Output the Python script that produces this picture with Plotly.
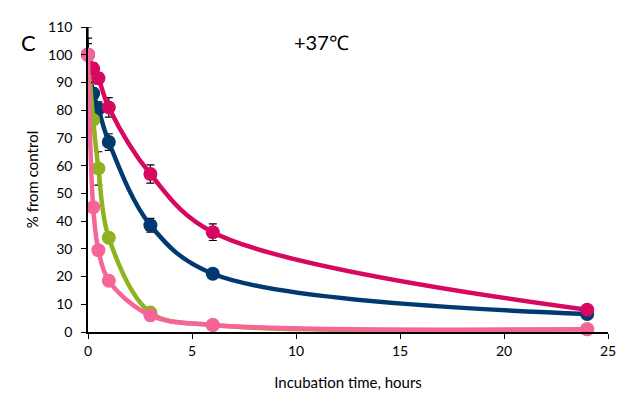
import plotly.graph_objects as go

time_h = [0, 0.25, 0.5, 1, 3, 6, 24]

blue_vals = [100, 86, 80.5, 68.5, 38.5, 21, 6.5]
blue_err = [6, 2, 2.5, 3, 2.5, 1, 0.5]
green_vals = [100, 76.5, 59, 34, 7, 2.5, 1]
green_err = [4, 1.5, 6, 1, 0.5, 0.3, 0.2]
red_vals = [100, 95, 91.5, 81, 57, 36, 8]
red_err = [10, 2, 2, 3.5, 3.3, 3, 0.5]
pink_vals = [100, 45, 29.5, 18.5, 6, 2.5, 1]
pink_err = [0, 0, 0, 0, 0, 0, 0]

x_ticks = [0, 5, 10, 15, 20, 25]
y_ticks = [0, 10, 20, 30, 40, 50, 60, 70, 80, 90, 100, 110]

series = [
    ("blue", blue_vals, blue_err, "#003A70"),
    ("green", green_vals, green_err, "#8DB31E"),
    ("red", red_vals, red_err, "#D6085F"),
    ("pink", pink_vals, pink_err, "#F7649A"),
]

FONT = "Lato, Carlito, 'Open Sans', sans-serif"

W, H = 629, 395
l, r, t, b = 88, 21, 27, 63
pw, ph = W - l - r, H - t - b

fig = go.Figure()
for name, vals, err, col in series:
    fig.add_trace(go.Scatter(
        x=time_h, y=vals, name=name, mode="lines+markers",
        line=dict(color=col, width=4.5, shape="spline", smoothing=1.0),
        marker=dict(color=col, size=14),
        error_y=dict(type="data", array=err, visible=True, color="black",
                     thickness=1.2, width=4),
        showlegend=False,
        cliponaxis=False,
    ))


def px2paper(px, py):
    return (px - l) / pw, 1 - (py - t) / ph


cx, cy = px2paper(28, 42)
tx, ty = px2paper(321, 42)

fig.update_layout(
    width=W, height=H,
    margin=dict(l=l, r=r, t=t, b=b, autoexpand=False),
    paper_bgcolor="white", plot_bgcolor="white",
    font=dict(family=FONT, size=14, color="black"),
    xaxis=dict(
        range=[0, 25], tickvals=x_ticks, ticks="outside", ticklen=5,
        tickcolor="black", tickwidth=1.3, automargin=False,
        showline=True, linecolor="black", linewidth=1.5, showgrid=False,
        zeroline=False,
        title=dict(text="Incubation time, hours", font=dict(size=15), standoff=20),
    ),
    yaxis=dict(
        range=[0, 110], tickvals=y_ticks, ticks="outside", ticklen=5,
        tickcolor="black", tickwidth=1.3, automargin=False,
        showline=True, linecolor="black", linewidth=1.5, showgrid=False,
        zeroline=False, ticklabelstandoff=6,
        title=dict(text="% from control", font=dict(size=15), standoff=6),
    ),
    annotations=[
        dict(text="C", x=cx, y=cy, xref="paper", yref="paper", showarrow=False,
             font=dict(size=22), xanchor="center", yanchor="middle"),
        dict(text="+37℃", x=tx, y=ty, xref="paper", yref="paper", showarrow=False,
             font=dict(size=20), xanchor="center", yanchor="middle"),
    ],
)

fig.write_html(
    "out.html",
    config={"displayModeBar": False},
    post_script="document.body.style.margin='0';document.body.style.padding='0';",
)
